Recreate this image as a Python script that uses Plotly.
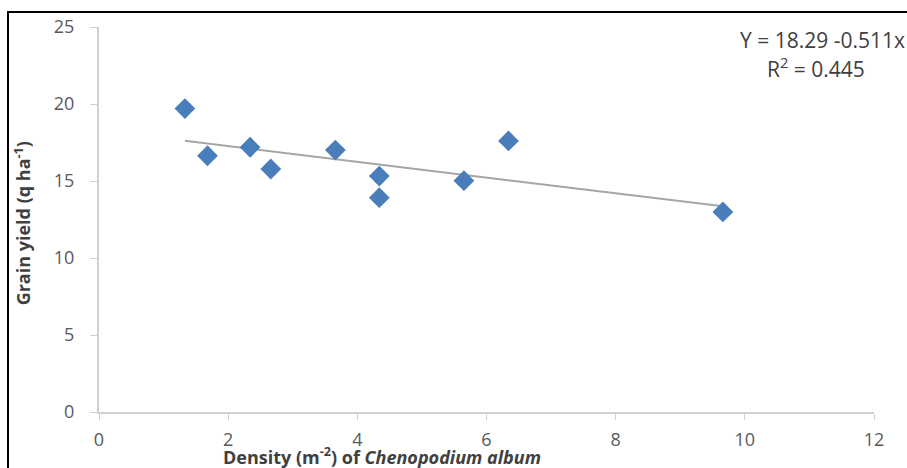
import plotly.graph_objects as go

# Weed density vs. grain yield observations
density = [1.33, 1.68, 2.34, 2.66, 3.66, 4.34, 4.34, 5.65, 6.34, 9.66]
grain_yield = [19.7, 16.64, 17.19, 15.78, 17.01, 15.32, 13.92, 15.02, 17.6, 12.99]

# Fitted linear trend: Y = a + b*x
intercept = 18.29
slope = -0.511
r_squared = 0.445

x_ticks = [0, 2, 4, 6, 8, 10, 12]
y_ticks = [0, 5, 10, 15, 20, 25]

trend_x = [min(density), max(density)]
trend_y = [intercept + slope * v for v in trend_x]

fig = go.Figure()
fig.add_trace(go.Scatter(
    x=trend_x, y=trend_y, mode="lines",
    line=dict(color="#a6a6a6", width=2), hoverinfo="skip",
))
fig.add_trace(go.Scatter(
    x=density, y=grain_yield, mode="markers",
    marker=dict(symbol="diamond", size=16, color="#4a7ebb",
                line=dict(width=0)),
))

tick_font = dict(family="Open Sans, sans-serif", size=18, color="#595959")
title_font = dict(family="Open Sans, sans-serif", size=18,
                  color="#404040", weight="bold")
eq_font = dict(family="Open Sans, sans-serif", size=21, color="#404040")
axis_line = "#d0d0d0"

fig.update_layout(
    width=907, height=468,
    margin=dict(l=99, r=33, t=27, b=56),
    paper_bgcolor="white", plot_bgcolor="white",
    showlegend=False,
    xaxis=dict(
        range=[0, 12], tickvals=x_ticks, ticktext=[str(t) for t in x_ticks],
        showgrid=False, zeroline=False,
        showline=True, linecolor=axis_line, linewidth=2,
        ticks="outside", ticklen=6, tickcolor=axis_line, tickwidth=1,
        tickfont=tick_font, ticklabelstandoff=4,
    ),
    yaxis=dict(
        range=[0, 25], tickvals=y_ticks, ticktext=[str(t) for t in y_ticks],
        showgrid=False, zeroline=False,
        showline=True, linecolor=axis_line, linewidth=2,
        ticks="outside", ticklen=7, tickcolor=axis_line, tickwidth=1,
        tickfont=tick_font, ticklabelstandoff=12,
    ),
    shapes=[
        # outer frame around the figure
        dict(type="rect", xref="paper", yref="paper",
             x0=-91 / 775, x1=1.2, y0=-0.3, y1=1 + 15 / 385,
             line=dict(color="black", width=2), fillcolor="rgba(0,0,0,0)",
             layer="below"),
    ],
    annotations=[
        dict(xref="paper", yref="paper", x=-76 / 775, y=0.49,
             text="Grain yield (q ha<sup>-1</sup>)", textangle=-90,
             showarrow=False, xanchor="center", yanchor="middle",
             font=title_font),
        dict(xref="paper", yref="paper", x=(382 - 99) / 775, y=-44 / 385,
             text="Density (m<sup>-2</sup>) of <i>Chenopodium album</i>",
             showarrow=False, xanchor="center", yanchor="middle",
             font=title_font),
        dict(xref="paper", yref="paper", x=(822 - 99) / 775, y=(412 - 40) / 385,
             text=f"Y = {intercept} {slope}x",
             showarrow=False, xanchor="center", yanchor="middle",
             font=eq_font),
        dict(xref="paper", yref="paper", x=(816 - 99) / 775, y=(412 - 67) / 385,
             text=f"R<sup>2</sup> = {r_squared}",
             showarrow=False, xanchor="center", yanchor="middle",
             font=eq_font),
    ],
)

fig.write_html("out.html")
